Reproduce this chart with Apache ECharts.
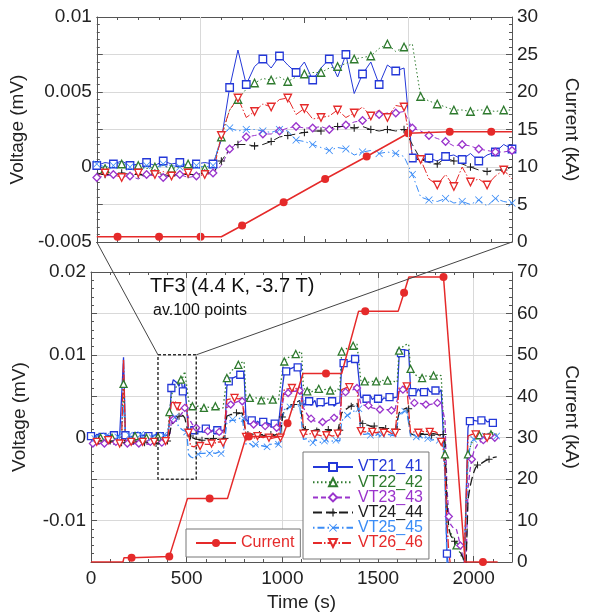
<!DOCTYPE html>
<html>
<head>
<meta charset="utf-8">
<script src="https://cdn.jsdelivr.net/npm/echarts@6/dist/echarts.min.js"></script>
<style>
  html, body { margin: 0; padding: 0; background: #fff; }
  #chart { width: 589px; height: 616px; }
</style>
</head>
<body>
<div id="chart"></div>
<script>
// averaged record, one value every timeStep seconds from t = 0
// voltages below are in units of 1e-4 mV
const timeStep = 10
const VOLT_UNIT = 1e-4

const vt21 = [
  2, 3, 1, 4, 2, 3, 1, 2, 4, 3, 2, 1, 3, 2, 4, 3, 2, 97, 3, 2, 1, 3, 2, 4, 2, 1, 3, 2, 3, 4, 2, 3, 1, 2, 4, 3, 2, 1, 3, 2, 3,
  18, 60, 70, 68, 66, 62, 72, 56, 65, 66,
  6, 8, 7, 9, 8, 10, 7, 9, 8, 11, 8, 9, 7, 10, 8, 9, 11, 8, 9, 10,
  62, 68, 70, 72, 71, 74, 73, 76, 75, 77,
  22, 20, 18, 21, 19, 17, 20, 18, 16, 19, 17, 18, 20, 16, 18, 17, 19, 16, 18,
  60, 78, 80, 82, 81, 84, 83, 86, 85, 87, 86,
  38, 42, 40, 44, 39, 41, 45, 37, 40, 43, 38, 41, 39, 42, 40, 44, 38, 41, 39, 42,
  88, 90, 91, 93, 92, 94, 93, 95, 94, 96,
  48, 46, 50, 47, 49, 51, 46, 48, 50, 47, 49, 45, 48, 50, 47, 49, 51, 48, 46, 49,
  98, 102, 104, 106, 108, 105,
  58, 55, 57, 54, 59, 56, 58, 55, 57, 60, 56, 58, 54, 57, 59, 55, 58, 56,
  -40, -140, -160, -160, -160, -160, -160, -160, -160, -160, -160, -160,
  12, 20, 22, 21, 23, 20, 22, 21, 20, 22, 19, 21, 20, 18, 20, 19
]
const vt22 = [
  0, 1, -1, 0, 2, 0, 1, -1, 0, 1, -1, 0, 2, 0, -1, 0, 1, 65, 0, 1, -1, 0, 1, 2, 0, -1, 0, 1, -1, 0, 2, 0, 1, -1, 0, 1, 0, 2, 0, -1, 0,
  31, 50, 59, 58, 62, 66, 70, 73, 80, 82,
  45, 40, 38, 37, 36, 38, 35, 37, 36, 38, 37, 35, 36, 37, 38, 36, 35, 37, 36, 37,
  72, 76, 79, 82, 84, 86, 88, 90, 91, 92,
  47, 46, 48, 45, 47, 48, 46, 47, 45, 48, 46, 47, 48, 45, 46, 47, 45, 46, 47,
  80, 92, 95, 96, 98, 99, 100, 101, 102, 103, 104,
  60, 58, 56, 59, 55, 57, 58, 56, 59, 57, 55, 58, 56, 59, 57, 58, 55, 57, 59, 56,
  104, 106, 107, 108, 109, 110, 111, 112, 113, 114,
  69, 67, 68, 70, 67, 69, 68, 66, 68, 69, 67, 70, 68, 67, 69, 68, 66, 68, 69, 67,
  105, 108, 110, 112, 114, 113,
  83, 80, 77, 75, 73, 74, 72, 75, 73, 74, 76, 74, 75, 73, 76, 74, 75, 77,
  -20, -105, -110, -115, -120, -125, -130, -135, -140, -145, -148, -150,
  -20, -12, -6, -2, 0, 2, 3, 4, 3, 5, 4, 5, 4, 6, 5, 4
]
const vt23 = [
  -6, -7, -5, -6, -8, -6, -5, -7, -6, -5, -7, -6, -8, -5, -6, -7, -5, -2, -6, -7, -5, -6, -8, -6, -5, -7, -6, -5, -7, -6, -8, -5, -6, -7, -5, -6, -8, -6, -5, -7, -6,
  1, 19, 22, 26, 26, 25, 28, 31, 36, 37,
  24, 20, 16, 13, 12, 10, 9, 8, 9, 7, 8, 9, 7, 8, 6, 8, 7, 9, 8, 7,
  36, 38, 40, 41, 42, 43, 44, 45, 44, 46,
  18, 19, 17, 18, 16, 17, 18, 15, 16, 17, 14, 15, 16, 13, 14, 15, 12, 14, 13,
  40, 52, 53, 54, 55, 56, 57, 56, 58, 57, 58,
  36, 32, 28, 25, 23, 21, 20, 19, 18, 18, 19, 18, 20, 21, 22, 23, 24, 25, 26, 27,
  52, 54, 55, 56, 57, 58, 58, 59, 60, 60,
  41, 40, 39, 38, 39, 37, 36, 37, 35, 36, 34, 35, 34, 33, 34, 35, 33, 34, 35, 34,
  56, 57, 58, 58, 57, 57,
  45, 43, 42, 41, 42, 40, 41, 39, 40, 41, 40, 42, 41, 43, 42, 44, 43, 45,
  20, -60, -95, -105, -108, -110, -111, -120, -130, -140, -148, -152,
  -62, -40, -26, -17, -12, -8, -6, -4, -3, -2, -1, -1, 0, 0, 0, 1
]
const vt24 = [
  -5, -4, -6, -5, -3, -5, -6, -4, -5, -7, -4, -5, -6, -4, -5, -3, -6, -1, -5, -4, -6, -5, -4, -6, -5, -7, -4, -5, -6, -4, -5, -6, -4, -5, -7, -5, -4, -6, -5, -4, -4,
  4, 15, 15, 21, 23, 26, 27, 27, 24, 25,
  4, 2, 0, -1, -2, -1, -2, -3, -1, -2, -1, -2, -3, -1, -2, -1, -2, -1, -2, -1,
  26, 27, 28, 29, 28, 30, 29, 31, 30, 32,
  5, 4, 5, 3, 4, 5, 3, 4, 2, 4, 3, 5, 3, 4, 2, 3, 4, 3, 2,
  25, 32, 34, 36, 37, 39, 40, 42, 43, 45, 44,
  12, 10, 9, 11, 8, 10, 9, 8, 10, 9, 7, 9, 8, 10, 9, 8, 9, 7, 8, 9,
  30, 32, 34, 35, 37, 38, 40, 41, 42, 43,
  18, 17, 16, 15, 15, 14, 13, 14, 12, 13, 12, 11, 12, 11, 10, 11, 10, 11, 10, 10,
  30, 32, 34, 35, 36, 35,
  5, 4, 3, 4, 3, 5, 4, 3, 4, 2, 4, 3, 5, 3, 4, 3, 2, 4,
  -5, -80, -110, -118, -122, -125, -128, -132, -138, -143, -148, -152,
  -75, -60, -50, -42, -36, -33, -32, -31, -30, -28, -27, -26, -25, -24, -24, -23
]
const vt25 = [
  1, 3, -1, 2, 0, 4, 1, -2, 2, 3, 0, 2, -1, 3, 1, 0, 2, 40, 1, -1, 3, 0, 2, 1, -2, 2, 4, 0, 1, 3, -1, 2, 0, 3, 1, -1, 2, 0, 3, 1, 2,
  20, 24, 24, 25, 17, 13, 12, 9, 9, 7,
  -20, -23, -24, -25, -22, -20, -19, -18, -19, -17, -18, -19, -18, -17, -19, -18, -17, -19, -18, -17,
  18, 20, 21, 22, 21, 22, 23, 22, 24, 23,
  -8, -10, -7, -9, -11, -8, -10, -9, -7, -10, -8, -11, -9, -8, -10, -7, -9, -8, -10,
  25, 34, 35, 36, 37, 38, 38, 39, 40, 40, 41,
  -2, -4, -1, -5, -3, -6, -2, -4, -5, -3, -6, -4, -2, -5, -3, -4, -6, -3, -5, -4,
  20, 23, 25, 27, 29, 30, 32, 33, 34, 35,
  5, 3, 4, 2, 5, 3, 4, 1, 3, 5, 2, 4, 3, 1, 4, 2, 3, 5, 2, 3,
  28, 30, 31, 32, 33, 32,
  2, 0, 3, 1, -1, 2, 0, -2, 1, -1, 0, -3, -1, -2, -4, -3, -5, -7,
  -50, -150, -160, -160, -160, -160, -160, -160, -160, -160, -160, -160,
  -30, -12, -5, -2, 0, 1, 2, 3, 3, 2, 3, 2, 1, 2, 1, 2
]
const vt26 = [
  -5, -6, -4, -5, -7, -5, -4, -6, -5, -3, -6, -5, -4, -6, -5, -7, -4, 95, -5, -6, -4, -5, -6, -4, -5, -3, -6, -5, -4, -6, -5, -4, -6, -5, -7, -5, -4, -6, -5, -4, -6,
  21, 42, 40, 44, 38, 33, 34, 37, 36, 40,
  6, -10, -12, -11, -9, -8, -10, -7, -9, -8, -6, -8, -7, -9, -6, -8, -5, -7, -6, -5,
  46, 48, 47, 49, 48, 50, 47, 49, 48, 50,
  1, 0, 2, -1, 1, 0, 2, 1, -1, 0, 1, 2, 0, -1, 1, 0, 2, 1, 0,
  45, 58, 56, 59, 58, 60, 57, 59, 61, 60, 59,
  5, 3, 4, 2, 5, 3, 4, 2, 3, 4, 2, 5, 3, 4, 3, 2, 4, 3, 5, 3,
  58, 59, 60, 59, 61, 60, 62, 61, 60, 62,
  8, 6, 7, 5, 8, 6, 7, 5, 6, 8, 7, 5, 6, 7, 8, 6, 5, 7, 6, 7,
  60, 62, 61, 63, 62, 61,
  6, 5, 7, 8, 6, 9, 8, 7, 9, 8, 7, 8, 6, 7, 5, 4, -5, -13,
  -40, -100, -140, -155, -160, -160, -160, -160, -160, -160, -160, -160,
  2, 3, 4, 3, 4, 3, 2, 1, 0, -1, 0, -1, 0, -1, -2, -1
]

// current (kA), piecewise record
const currentTime = [0, 167, 172, 212, 409, 504, 620, 713, 811, 825, 1001, 1027, 1108, 1228, 1310, 1398, 1433, 1605, 1636, 1661, 1842, 1955, 2048, 2125]
const currentKA = [0, 0, 1, 1, 1.3, 15.3, 15.3, 15.3, 30.3, 30.3, 30.3, 33.5, 45.5, 45.5, 45.5, 60.5, 60.5, 60.5, 65, 68.8, 68.8, 0, 0, 0]
const currentMarkerTimes = [212, 409, 620, 825, 1027, 1228, 1433, 1636, 1842, 2048]

// zoomed window (upper panel), raw record every zoomStep seconds
const zoomWindow = [350, 550]
const zoomVolt = [-0.005, 0.01]
const zoomGridTimes = [400, 500]
const zoomStep = 4
const z21 = [1, 3, 2, 4, 1, 2, 3, 1, 4, 2, 3, 1, 2, 3, 2,
  18, 53, 78, 55, 67, 72, 66, 74, 68, 63, 70, 58, 66, 72, 60, 75, 49, 62, 70, 55, 68, 64, 66, 6, 5, 6, 4, 7, 8, 5, 9, 4, 8, 10, 15, 12]
const z22 = [1, -1, 0, 2, 0, 1, -1, 0, 1, -1, 0, 2, 0, -1, 0,
  20, 38, 45, 52, 56, 59, 58, 60, 57, 60, 62, 63, 63, 66, 67, 69, 72, 73, 74, 79, 82, 77, 80, 82, 47, 44, 42, 40, 38, 38, 37, 38, 38, 37, 38, 38]
const z23 = [-7, -6, -5, -7, -6, -8, -5, -6, -7, -6, -5, -7, -6, -5, -4,
  1, 12, 16, 20, 21, 22, 22, 24, 26, 27, 26, 26, 27, 25, 26, 28, 30, 31, 33, 35, 36, 36, 37, 26, 24, 21, 19, 17, 14, 15, 14, 12, 11, 10, 10, 11]
const z24 = [-4, -5, -6, -4, -5, -5, -6, -4, -5, -6, -4, -5, -5, -4, -4,
  4, 12, 15, 15, 14, 15, 17, 20, 21, 22, 23, 24, 24, 26, 27, 27, 26, 27, 25, 24, 25, 24, 25, 15, 5, 3, 2, 6, 4, 2, 0, -2, -3, -2, -2, 0]
const z25 = [2, 0, 1, 3, 0, 2, 1, -1, 2, 1, 0, 2, 1, 0, 1,
  20, 26, 24, 25, 25, 24, 23, 25, 24, 18, 17, 15, 13, 11, 13, 12, 8, 10, 11, 9, 10, 9, 7, -5, -20, -22, -23, -21, -24, -23, -25, -22, -26, -21, -23, -24]
const z26 = [-6, -4, -5, -7, -5, -4, -6, -5, -3, -6, -5, -4, -6, -5, -4,
  21, 38, 46, 33, 37, 42, 40, 45, 46, 35, 39, 32, 33, 34, 38, 33, 36, 40, 34, 38, 33, 41, 40, 8, 5, -8, -12, -5, -13, 0, -10, -8, -12, -6, -2, -8]
const zoomCurrentTime = [350, 360, 380, 400, 410, 420, 440, 460, 480, 500, 520, 540, 550]
const zoomCurrentKA = [0.7, 0.7, 0.7, 0.7, 0.7, 2.2, 5.3, 8.4, 11.4, 14.5, 14.7, 14.7, 14.7]
const zoomCurrentMarkers = [360, 380, 400, 420, 440, 460, 480, 500, 520, 540]

const names = ['VT21_41', 'VT22_42', 'VT23_43', 'VT24_44', 'VT25_45', 'VT26_46']
const fullData = [vt21, vt22, vt23, vt24, vt25, vt26]
const zoomData = [z21, z22, z23, z24, z25, z26]

const FONT = "'Liberation Sans', Arial, Helvetica, sans-serif"
const RED = '#e52a2a'
const colors = ['#2438d8', '#2e7a2e', '#9a34cc', '#1c1c1c', '#3b8cf6', RED]
const dashes = ['solid', [1.5, 2.5], [5, 3], [9, 4], [1.5, 3, 7, 3], [9, 2, 1.5, 2]]
const plus = 'path://M4.3,0H5.7V4.3H10V5.7H5.7V10H4.3V5.7H0V4.3H4.3Z'
const cross = 'path://M0.8,0L5,4.2L9.2,0L10,0.8L5.8,5L10,9.2L9.2,10L5,5.8L0.8,10L0,9.2L4.2,5L0,0.8Z'
const downTri = 'path://M0,0L10,0L5,9Z'
const symbols = ['rect', 'triangle', 'diamond', plus, cross, downTri]
const hollow = [true, true, true, false, false, true]
const fullOffsets = [0, 5, 1, 4, 2, 3]

const chart = echarts.init(document.getElementById('chart'))

function itemStyleOf(k) {
  return hollow[k]
    ? { color: '#fff', borderColor: colors[k], borderWidth: 1.3 }
    : { color: colors[k], borderWidth: 0 }
}

const tickStyle = {
  axisLine: { show: true, onZero: false, lineStyle: { color: '#555', width: 1 } },
  axisTick: { show: true, inside: true, length: 6, lineStyle: { color: '#555' } },
  minorTick: { show: true, splitNumber: 5, length: 3, lineStyle: { color: '#555' } },
  splitLine: { show: false }
}
const labelStyle = { show: true, fontSize: 19, color: '#222', fontFamily: FONT }
const nameStyle = { fontSize: 19, color: '#222', fontFamily: FONT }
const gridLine = { show: true, lineStyle: { color: '#d9d9d9', width: 1 } }

function voltLabel(step) {
  return (v) => {
    const n = Math.round(v * 1e4)
    if (n % step !== 0) return ''
    return String(+v.toFixed(4))
  }
}

const series = []

fullData.forEach((vals, k) => {
  series.push({
    name: names[k],
    type: 'line',
    xAxisIndex: 2,
    yAxisIndex: 2,
    data: vals.map((v, i) => [i * timeStep, v * VOLT_UNIT]),
    symbol: symbols[k],
    symbolSize: (val, p) => (p.dataIndex % 6 === fullOffsets[k] ? 7 : 0),
    showSymbol: true,
    lineStyle: { color: colors[k], width: 1.3, type: dashes[k] },
    itemStyle: itemStyleOf(k),
    z: 3
  })
})

series.push({
  name: 'Current',
  type: 'line',
  xAxisIndex: 2,
  yAxisIndex: 3,
  data: currentTime.map((t, i) => [t, currentKA[i]]),
  symbol: 'circle',
  symbolSize: (val) => (currentMarkerTimes.includes(val[0]) ? 8 : 0),
  showSymbol: true,
  lineStyle: { color: RED, width: 1.5 },
  itemStyle: { color: RED },
  z: 4
})

const topStart = series.length
zoomData.forEach((vals, k) => {
  series.push({
    name: names[k],
    type: 'line',
    xAxisIndex: 0,
    yAxisIndex: 0,
    data: vals.map((v, i) => [zoomWindow[0] + i * zoomStep, v * VOLT_UNIT]),
    symbol: symbols[k],
    symbolSize: (val, p) => (p.dataIndex % 2 === k % 2 ? 7.5 : 0),
    showSymbol: true,
    lineStyle: { color: colors[k], width: 1, type: dashes[k] },
    itemStyle: itemStyleOf(k),
    z: 3
  })
})

series.push({
  name: 'Current',
  type: 'line',
  xAxisIndex: 0,
  yAxisIndex: 1,
  data: zoomCurrentTime.map((t, i) => [t, zoomCurrentKA[i]]),
  symbol: 'circle',
  symbolSize: (val) => (zoomCurrentMarkers.includes(val[0]) ? 8 : 0),
  showSymbol: true,
  lineStyle: { color: RED, width: 1.5 },
  itemStyle: { color: RED },
  z: 4
})

// vertical grid lines of the upper panel
series.push({
  type: 'line',
  xAxisIndex: 0,
  yAxisIndex: 1,
  data: [],
  silent: true,
  z: 1,
  markLine: {
    silent: true,
    symbol: 'none',
    label: { show: false },
    lineStyle: { color: '#d9d9d9', width: 1, type: 'solid' },
    data: zoomGridTimes.map((t) => ({ xAxis: t }))
  }
})

// dashed box marking the zoomed window on the lower panel
const boxIndex = series.length
series.push({
  type: 'line',
  xAxisIndex: 2,
  yAxisIndex: 2,
  silent: true,
  symbol: 'none',
  z: 6,
  lineStyle: { color: '#333', width: 1.5, type: [3, 2] },
  data: [
    [zoomWindow[0], zoomVolt[1]],
    [zoomWindow[1], zoomVolt[1]],
    [zoomWindow[1], zoomVolt[0]],
    [zoomWindow[0], zoomVolt[0]],
    [zoomWindow[0], zoomVolt[1]]
  ]
})

const option = {
  animation: false,
  backgroundColor: '#fff',
  textStyle: { fontFamily: FONT },
  grid: [
    { left: 91, top: 17, width: 427, height: 225 },
    { left: 91, top: 272, width: 427, height: 290 }
  ],
  xAxis: [
    { type: 'value', gridIndex: 0, position: 'bottom', min: zoomWindow[0], max: zoomWindow[1], interval: 50,
      ...tickStyle, axisLabel: { show: false } },
    { type: 'value', gridIndex: 0, position: 'top', min: zoomWindow[0], max: zoomWindow[1], interval: 50,
      ...tickStyle, axisLabel: { show: false } },
    { type: 'value', gridIndex: 1, position: 'bottom', min: 0, max: 2200, interval: 500,
      ...tickStyle, splitLine: gridLine,
      axisLabel: { ...labelStyle, margin: 7, showMaxLabel: false, formatter: (v) => String(v) },
      name: 'Time (s)', nameLocation: 'middle', nameGap: 31, nameTextStyle: nameStyle },
    { type: 'value', gridIndex: 1, position: 'top', min: 0, max: 2200, interval: 500,
      ...tickStyle, axisLabel: { show: false } }
  ],
  yAxis: [
    { type: 'value', gridIndex: 0, position: 'left', min: zoomVolt[0], max: zoomVolt[1], interval: 0.0025,
      ...tickStyle, axisLabel: { ...labelStyle, margin: 5, formatter: voltLabel(50) },
      name: 'Voltage (mV)', nameLocation: 'middle', nameRotate: 90, nameGap: 62, nameTextStyle: nameStyle },
    { type: 'value', gridIndex: 0, position: 'right', min: 0, max: 30, interval: 5,
      ...tickStyle, splitLine: gridLine, axisLabel: { ...labelStyle, margin: 5 },
      name: 'Current (kA)', nameLocation: 'middle', nameRotate: -90, nameGap: 50, nameTextStyle: nameStyle },
    { type: 'value', gridIndex: 1, position: 'left', min: -0.015, max: 0.02, interval: 0.005,
      ...tickStyle, axisLabel: { ...labelStyle, margin: 5, formatter: voltLabel(100) },
      name: 'Voltage (mV)', nameLocation: 'middle', nameRotate: 90, nameGap: 62, nameTextStyle: nameStyle },
    { type: 'value', gridIndex: 1, position: 'right', min: 0, max: 70, interval: 10,
      ...tickStyle, splitLine: gridLine, axisLabel: { ...labelStyle, margin: 5 },
      name: 'Current (kA)', nameLocation: 'middle', nameRotate: -90, nameGap: 50, nameTextStyle: nameStyle }
  ],
  legend: [
    {
      left: 186, top: 529, orient: 'vertical', selectedMode: false,
      backgroundColor: '#fff', borderColor: '#777', borderWidth: 1, padding: [6, 6, 6, 9],
      itemWidth: 40, itemHeight: 10,
      textStyle: { fontSize: 16, fontFamily: FONT },
      data: [{ name: 'Current', textStyle: { color: RED } }]
    },
    {
      left: 303, top: 452, orient: 'vertical', selectedMode: false,
      backgroundColor: '#fff', borderColor: '#777', borderWidth: 1, padding: [7, 6, 8, 9],
      itemWidth: 40, itemHeight: 10, itemGap: -0.8,
      textStyle: { fontSize: 16, fontFamily: FONT },
      data: names.map((n, k) => ({ name: n, textStyle: { color: colors[k] } }))
    }
  ],
  series
}

chart.setOption(option)

// connector lines from the upper panel corners to the dashed box
const topRef = topStart
const p1 = chart.convertToPixel({ seriesIndex: topRef }, [zoomWindow[0], zoomVolt[0]])
const p2 = chart.convertToPixel({ seriesIndex: topRef }, [zoomWindow[1], zoomVolt[0]])
const q1 = chart.convertToPixel({ seriesIndex: boxIndex }, [zoomWindow[0], zoomVolt[1]])
const q2 = chart.convertToPixel({ seriesIndex: boxIndex }, [zoomWindow[1], zoomVolt[1]])

chart.setOption({
  graphic: [
    { type: 'line', silent: true, z: 5, shape: { x1: p1[0], y1: p1[1], x2: q1[0], y2: q1[1] },
      style: { stroke: '#444', lineWidth: 1 } },
    { type: 'line', silent: true, z: 5, shape: { x1: p2[0], y1: p2[1], x2: q2[0], y2: q2[1] },
      style: { stroke: '#444', lineWidth: 1 } },
    { type: 'text', left: 150, top: 276, silent: true, z: 10,
      style: { text: 'TF3 (4.4 K, -3.7 T)', fontSize: 20, fill: '#111', fontFamily: FONT } },
    { type: 'text', left: 153, top: 303, silent: true, z: 10,
      style: { text: 'av.100 points', fontSize: 16, fill: '#111', fontFamily: FONT } }
  ]
})
</script>
</body>
</html>
